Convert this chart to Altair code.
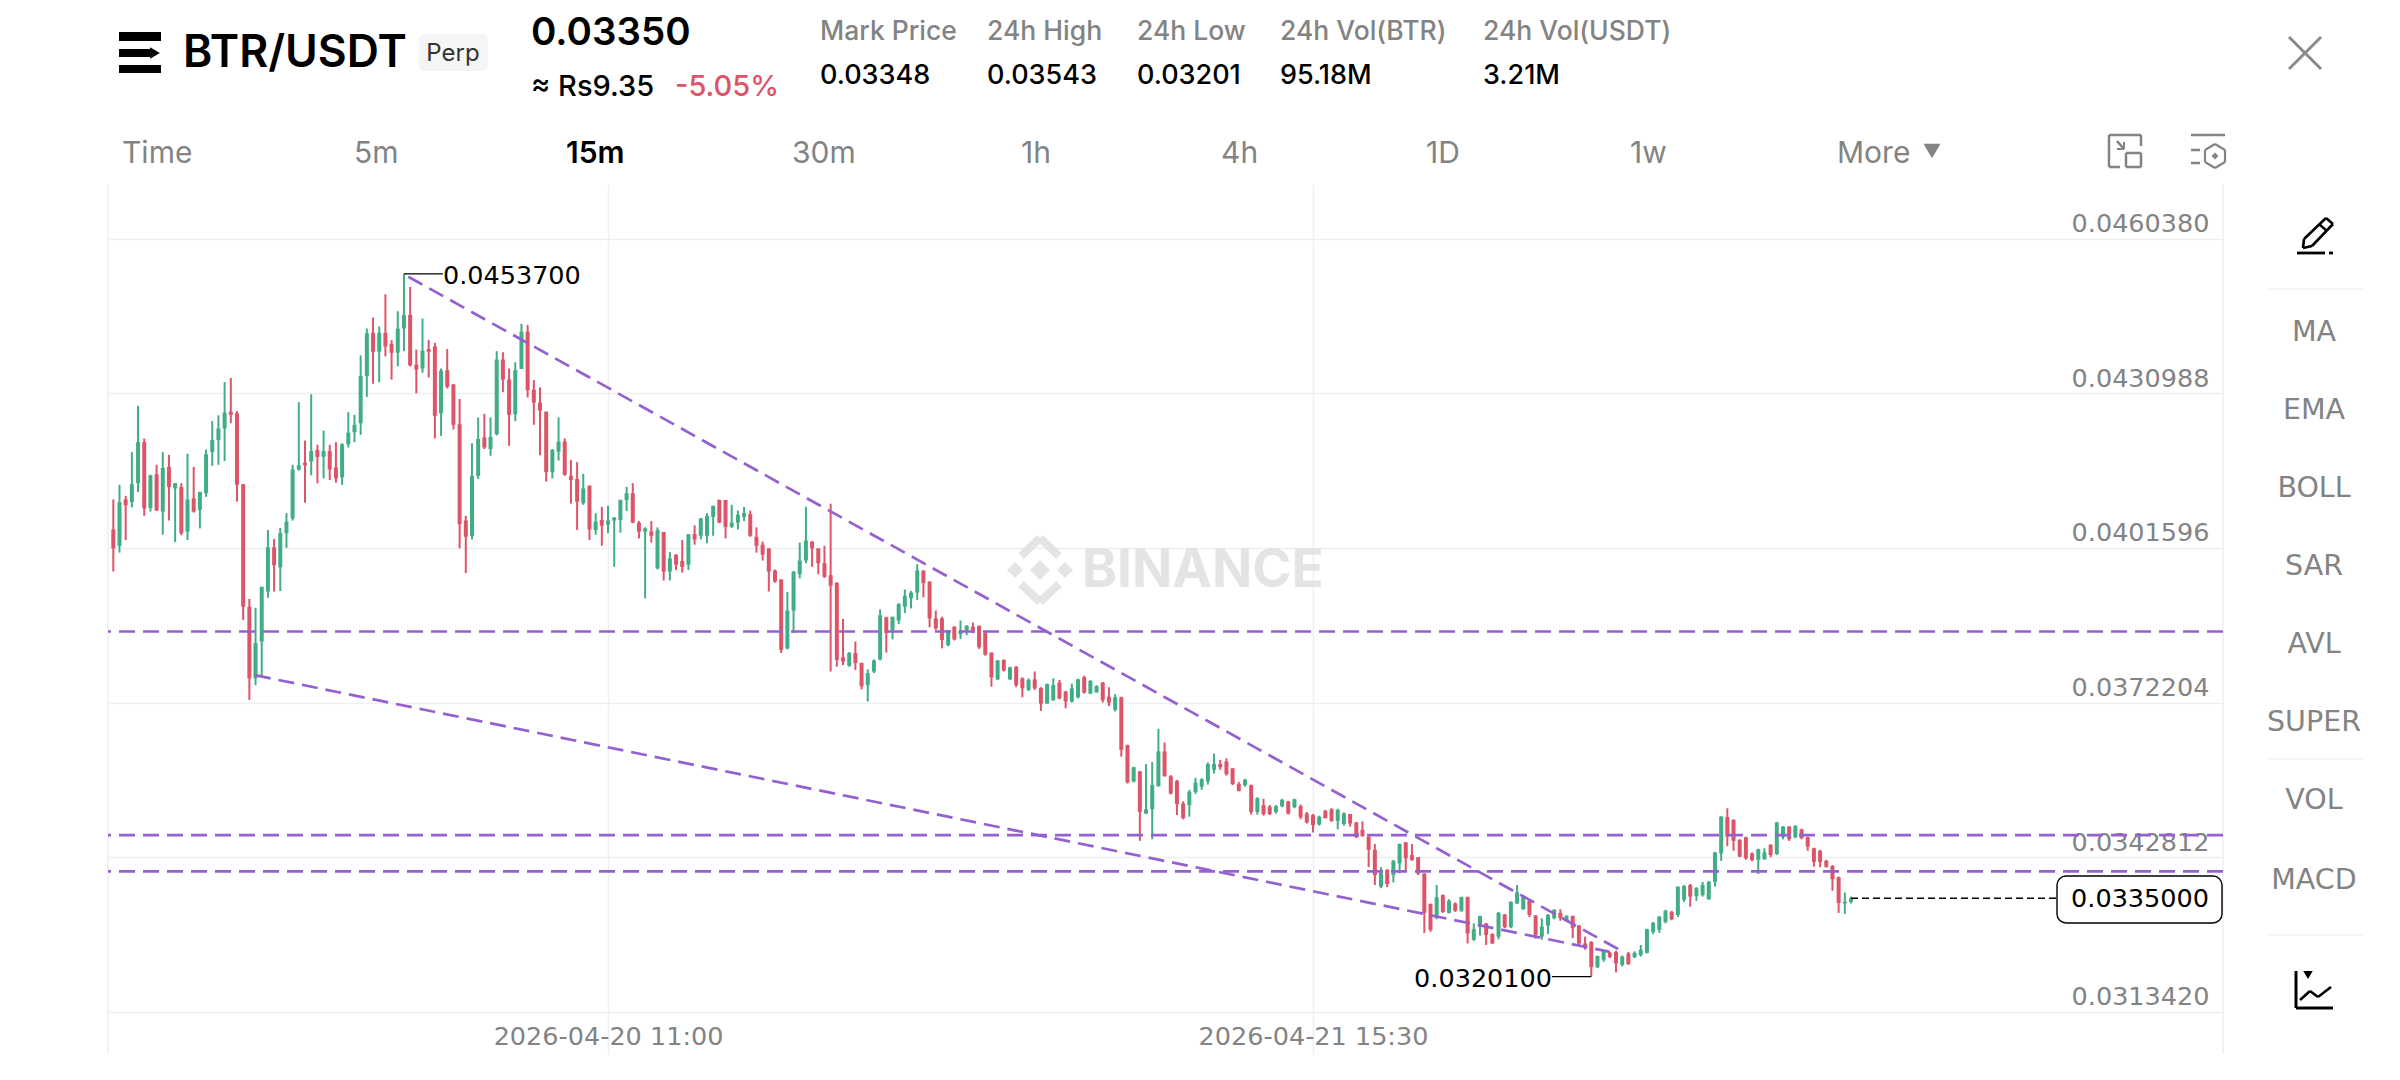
import altair as alt
import pandas as pd

# ---- prices in units of 0.00001 USDT, one per 15-minute candle ----
opens = [
 4051,4020,4108,4103,4139,4217,4092,4156,4085,4170,
 4129,4132,4047,4110,4088,4120,4198,4221,4243,4275,
 4272,4137,3904,3768,3838,3933,4017,3979,4044,4072,
 4165,4178,4180,4202,4189,4200,4169,4150,4213,4236,
 4253,4343,4425,4389,4425,4404,4387,4433,4459,4364,
 4357,4394,4399,4272,4354,4327,4251,4068,4039,4153,
 4226,4204,4232,4374,4336,4270,4356,4427,4317,4292,
 4275,4160,4199,4218,4153,4147,4101,4134,4050,4069,
 4060,4068,4069,4107,4120,4064,4047,4047,3977,4046,
 3971,4003,3991,3984,4042,4039,4039,4075,4107,4107,
 4056,4064,4075,4080,4037,4022,4015,3973,3956,3825,
 3897,3966,3992,4028,4015,3987,3964,3950,3808,3792,
 3816,3797,3755,3781,3804,3884,3860,3878,3904,3920,
 3931,3973,3952,3882,3882,3831,3866,3852,3859,3866,
 3868,3855,3817,3766,3803,3766,3790,3768,3746,3766,
 3750,3720,3727,3760,3743,3724,3732,3770,3739,3741,
 3760,3733,3708,3732,3641,3572,3591,3511,3519,3563,
 3629,3582,3573,3530,3527,3552,3562,3572,3594,3605,
 3610,3597,3567,3565,3565,3514,3527,3524,3514,3525,
 3534,3523,3525,3511,3508,3490,3516,3519,3497,3491,
 3510,3494,3480,3467,3442,3372,3404,3394,3416,3456,
 3432,3428,3397,3339,3312,3356,3322,3340,3326,3352,
 3271,3296,3302,3282,3277,3319,3295,3340,3329,3345,
 3317,3277,3298,3312,3322,3307,3316,3298,3264,3267,
 3219,3233,3246,3248,3223,3245,3238,3242,3246,3286,
 3290,3305,3324,3318,3347,3375,3354,3356,3348,3381,
 3435,3504,3499,3461,3466,3435,3423,3424,3451,3434,
 3466,3486,3466,3481,3466,3445,3440,3421,3411,3390,3340,3343]
highs = [
 4108,4136,4115,4198,4286,4224,4155,4174,4198,4193,
 4139,4139,4195,4170,4123,4203,4257,4268,4331,4339,
 4276,4137,3919,3902,3942,4050,4033,4054,4082,4174,
 4293,4220,4308,4212,4239,4212,4217,4215,4274,4269,
 4382,4433,4454,4437,4498,4411,4466,4537,4512,4393,
 4452,4411,4406,4357,4394,4327,4299,4077,4215,4264,
 4271,4264,4390,4388,4357,4369,4442,4440,4335,4321,
 4275,4204,4264,4224,4183,4179,4157,4135,4082,4094,
 4096,4074,4108,4132,4139,4067,4055,4067,4055,4046,
 4008,4004,4031,4042,4059,4073,4082,4096,4108,4107,
 4098,4087,4094,4087,4055,4028,4015,3975,3956,3932,
 3972,4026,4094,4029,4015,4020,4100,3950,3881,3818,
 3838,3798,3785,3804,3899,3885,3885,3911,3937,3934,
 3985,3973,3952,3897,3885,3860,3867,3878,3869,3874,
 3868,3855,3817,3803,3804,3790,3791,3770,3768,3781,
 3751,3758,3768,3765,3744,3758,3767,3773,3765,3755,
 3761,3751,3738,3733,3642,3600,3592,3605,3609,3672,
 3646,3584,3575,3534,3556,3579,3578,3608,3625,3613,
 3616,3597,3571,3577,3566,3542,3539,3527,3527,3539,
 3535,3539,3528,3514,3510,3507,3518,3521,3520,3513,
 3510,3495,3496,3468,3453,3409,3405,3423,3454,3457,
 3453,3428,3397,3340,3375,3357,3348,3342,3353,3353,
 3302,3317,3303,3283,3324,3320,3344,3375,3356,3347,
 3318,3312,3320,3329,3329,3318,3317,3299,3277,3268,
 3241,3251,3248,3250,3241,3248,3249,3261,3292,3305,
 3316,3328,3326,3372,3375,3377,3371,3381,3383,3438,
 3506,3521,3500,3462,3467,3437,3444,3445,3453,3495,
 3487,3487,3489,3482,3467,3446,3442,3423,3413,3391,3361,3353]
lows = [
 3971,4007,4031,4093,4122,4077,4085,4086,4041,4068,
 4027,4040,4031,4083,4053,4113,4172,4174,4181,4253,
 4104,3879,3727,3755,3771,3921,3933,3934,4016,4068,
 4163,4102,4154,4139,4148,4145,4140,4136,4207,4217,
 4231,4303,4328,4331,4380,4336,4361,4390,4361,4310,
 4349,4340,4224,4229,4319,4241,4015,3968,4032,4147,
 4204,4191,4230,4312,4210,4257,4356,4302,4250,4192,
 4142,4148,4182,4153,4100,4050,4098,4031,4041,4020,
 4044,3980,4045,4086,4063,4034,3920,4026,3975,3954,
 3954,3974,3969,3974,4022,4032,4025,4039,4063,4034,
 4054,4051,4067,4037,4007,3992,3933,3950,3816,3823,
 3854,3958,3987,3980,3966,3959,3781,3790,3793,3790,
 3784,3747,3724,3778,3802,3817,3842,3871,3892,3901,
 3917,3922,3865,3860,3825,3829,3840,3843,3850,3854,
 3824,3811,3752,3765,3781,3765,3751,3732,3744,3746,
 3706,3720,3725,3728,3711,3722,3730,3739,3738,3741,
 3722,3715,3705,3619,3568,3570,3459,3510,3462,3562,
 3581,3547,3508,3500,3505,3548,3556,3566,3587,3594,
 3583,3565,3553,3562,3509,3509,3507,3508,3511,3523,
 3509,3521,3500,3492,3475,3488,3502,3495,3481,3488,
 3486,3464,3467,3409,3375,3369,3371,3380,3397,3402,
 3421,3394,3284,3286,3310,3322,3321,3324,3324,3264,
 3269,3279,3261,3263,3272,3293,3293,3339,3328,3314,
 3273,3271,3282,3310,3307,3305,3274,3261,3252,3201,
 3217,3229,3236,3209,3220,3223,3236,3239,3245,3282,
 3284,3302,3308,3314,3343,3334,3345,3353,3347,3372,
 3421,3449,3440,3428,3423,3420,3396,3423,3428,3432,
 3462,3459,3464,3462,3440,3410,3409,3408,3364,3322,3320,3340]
closes = [
 4015,4103,4097,4137,4217,4091,4154,4087,4168,4132,
 4139,4044,4108,4085,4122,4194,4221,4243,4273,4269,
 4136,3904,3768,3835,3942,4017,3983,4044,4066,4165,
 4173,4173,4200,4189,4200,4165,4148,4213,4235,4250,
 4343,4424,4389,4425,4399,4387,4433,4459,4363,4355,
 4391,4389,4267,4353,4322,4250,4061,4037,4153,4223,
 4207,4227,4374,4336,4269,4354,4427,4316,4292,4277,
 4160,4202,4218,4155,4145,4104,4129,4051,4066,4058,
 4068,4074,4107,4120,4064,4047,4053,4039,4050,3971,
 3996,3984,3980,4042,4032,4072,4077,4096,4064,4056,
 4064,4079,4082,4039,4020,4003,3971,3952,3822,3897,
 3971,3992,4030,4015,3987,3961,3944,3803,3800,3816,
 3797,3753,3778,3802,3888,3854,3885,3909,3925,3931,
 3973,3949,3882,3863,3841,3859,3842,3859,3868,3859,
 3827,3813,3770,3802,3783,3789,3755,3749,3765,3749,
 3720,3757,3755,3730,3724,3749,3766,3741,3763,3753,
 3727,3722,3732,3632,3570,3599,3514,3519,3565,3629,
 3582,3549,3529,3502,3552,3570,3576,3605,3605,3599,
 3586,3567,3554,3575,3514,3540,3510,3510,3525,3537,
 3511,3538,3504,3494,3489,3505,3502,3497,3518,3511,
 3492,3466,3468,3442,3394,3398,3377,3421,3453,3426,
 3423,3397,3322,3290,3352,3324,3345,3326,3352,3283,
 3291,3316,3280,3264,3322,3295,3343,3361,3354,3318,
 3280,3296,3318,3328,3312,3316,3293,3264,3255,3219,
 3240,3249,3238,3226,3239,3225,3246,3252,3291,3303,
 3315,3326,3310,3372,3373,3353,3369,3375,3381,3437,
 3505,3467,3459,3429,3426,3423,3443,3437,3432,3494,
 3486,3462,3487,3464,3448,3419,3419,3410,3386,3341,3343,3350]

first_candle = "2026-04-19T15:00:00"
x_domain = ["2026-04-19T14:47:08", "2026-04-23T04:17:18"]
x_ticks = ["2026-04-20T11:00:00", "2026-04-21T15:30:00"]
y_ticks = [0.0460380, 0.0430988, 0.0401596, 0.0372204, 0.0342812, 0.0313420]
y_domain = [0.030538, 0.047078]

h_levels = [0.03857, 0.03470, 0.03401]
trend_upper_t = ["2026-04-20T02:55:30", "2026-04-22T03:54:00"]
trend_upper_p = [0.045315, 0.032515]
trend_lower_t = ["2026-04-19T20:43:30", "2026-04-22T03:30:00"]
trend_lower_p = [0.03774, 0.03248]

extreme_t = ["2026-04-20T02:45:00", "2026-04-22T02:45:00"]
extreme_t2 = ["2026-04-20T04:19:30", "2026-04-22T01:09:45"]
extreme_p = [0.04537, 0.03201]
extreme_txt = ["0.0453700", "0.0320100"]

last_t = "2026-04-22T13:15:00"
last_t2 = "2026-04-22T21:35:00"
last_p = 0.0335
last_txt = "0.0335000"

GREEN, RED, PURPLE = "#41ad85", "#dd5468", "#9560d0"
GRAY, GRID, MARK = "#838383", "#efefef", "#e4e4e4"
UI = "Inter"
NUM = "DejaVu Sans"
PX, PY = 108, 184  # page position of the plot's corner


def ms(s):
    return int(pd.Timestamp(s, tz="UTC").timestamp() * 1000)


times = [ms(first_candle) + i * 900000 for i in range(len(opens))]
candles = pd.DataFrame({
    "t": times,
    "o": [v / 100000 for v in opens],
    "h": [v / 100000 for v in highs],
    "l": [v / 100000 for v in lows],
    "c": [v / 100000 for v in closes],
})
candles["dir"] = ["up" if c >= o else "down" for o, c in zip(opens, closes)]

x_scale = alt.Scale(type="utc", domain=[ms(d) for d in x_domain])
y_scale = alt.Scale(domain=y_domain, nice=False, zero=False)
x_axis = alt.Axis(
    values=[ms(d) for d in x_ticks],
    labelExpr="utcFormat(datum.value, '%Y-%m-%d %H:%M')",
    grid=True, gridColor=GRID, gridWidth=1.5, domain=False, ticks=False,
    labelFont=NUM, labelFontSize=25.5, labelColor=GRAY, labelBaseline="middle",
    labelPadding=-18, labelFlush=False, labelOverlap=False, labelLimit=500)
y_axis = alt.Axis(
    orient="right", values=y_ticks, format=".7f",
    grid=True, gridColor=GRID, gridWidth=1.5, domain=False, ticks=False,
    labelFont=NUM, labelFontSize=25.5, labelColor=GRAY, labelAlign="right",
    labelBaseline="bottom", labelPadding=-14, labelOffset=-2, labelOverlap=False)
COL = alt.Color("dir:N", legend=None,
                scale=alt.Scale(domain=["up", "down"], range=[GREEN, RED]))


def Xp(field):
    return alt.X(field, scale=x_scale, title=None, axis=x_axis)


def Yp(field):
    return alt.Y(field, scale=y_scale, title=None, axis=y_axis)


dummy = pd.DataFrame({"k": [0]})


def T(px, py, s, size, color="#000000", weight=400, font=UI, align="left"):
    return alt.Chart(dummy).mark_text(
        font=font, fontSize=size, fontWeight=weight, color=color,
        align=align, baseline="middle",
    ).encode(x=alt.value(px - PX), y=alt.value(py - PY), text=alt.value(s))


def seg(x1, y1, x2, y2, color=GRID, w=1.5):
    return alt.Chart(dummy).mark_rule(color=color, strokeWidth=w).encode(
        x=alt.value(x1 - PX), x2=alt.value(x2 - PX),
        y=alt.value(y1 - PY), y2=alt.value(y2 - PY))


def poly(pts, color, w):
    return [seg(a[0], a[1], b[0], b[1], color, w) for a, b in zip(pts, pts[1:])]


def box(x1, y1, x2, y2, fill, stroke=None, r=0, w=0):
    kw = {"stroke": stroke, "strokeWidth": w} if stroke else {}
    return alt.Chart(dummy).mark_rect(color=fill, cornerRadius=r, **kw).encode(
        x=alt.value(x1 - PX), x2=alt.value(x2 - PX),
        y=alt.value(y1 - PY), y2=alt.value(y2 - PY))


def pt(px, py, shape, size, color):
    return alt.Chart(dummy).mark_point(shape=shape, size=size, color=color,
                                       filled=True, opacity=1).encode(
        x=alt.value(px - PX), y=alt.value(py - PY))


layers = []
# watermark
layers += [pt(1015, 570, "diamond", 260, MARK), pt(1065, 570, "diamond", 260, MARK),
           pt(1040, 570, "diamond", 400, MARK)]
layers += poly([(1021, 556), (1040, 538), (1059, 556)], MARK, 8)
layers += poly([(1021, 584), (1040, 602), (1059, 584)], MARK, 8)
layers.append(T(1082, 571, "BINANCE", 53, MARK, 700))

# candles
layers.append(alt.Chart(candles).mark_rule(strokeWidth=2).encode(
    x=Xp("t:T"), y=Yp("l:Q"), y2="h:Q", color=COL))
layers.append(alt.Chart(candles).mark_rule(strokeWidth=4).encode(
    x=Xp("t:T"), y=Yp("o:Q"), y2="c:Q", color=COL))

# plot edges
layers += [seg(PX, 184, PX, 1054), seg(2223, 184, 2223, 1054)]

# horizontal levels and trend lines
layers.append(alt.Chart(pd.DataFrame({"p": h_levels})).mark_rule(
    color=PURPLE, strokeWidth=2.7, strokeDash=[16, 8]).encode(y=Yp("p:Q")))
for tt, pp in ((trend_upper_t, trend_upper_p), (trend_lower_t, trend_lower_p)):
    layers.append(alt.Chart(pd.DataFrame({"t": [ms(v) for v in tt], "p": pp})).mark_line(
        color=PURPLE, strokeWidth=2.7, strokeDash=[16, 8]).encode(x=Xp("t:T"), y=Yp("p:Q")))

# high / low annotations
ext = pd.DataFrame({"t": [ms(v) for v in extreme_t], "t2": [ms(v) for v in extreme_t2],
                    "p": extreme_p, "s": extreme_txt})
layers.append(alt.Chart(ext).mark_rule(color="#000000", strokeWidth=1.3).encode(
    x=Xp("t:T"), x2="t2:T", y=Yp("p:Q")))
for i, al in ((0, "left"), (1, "right")):
    layers.append(alt.Chart(ext.iloc[[i]]).mark_text(
        font=NUM, fontSize=25.5, color="#000000", align=al, baseline="middle", dy=2).encode(
        x=Xp("t2:T"), y=Yp("p:Q"), text="s:N"))

# last price line and tag
lp = pd.DataFrame({"t": [ms(last_t)], "t2": [ms(last_t2)], "p": [last_p], "s": [last_txt]})
layers.append(alt.Chart(lp).mark_rule(color="#000000", strokeWidth=1.5, strokeDash=[7, 4]).encode(
    x=Xp("t:T"), x2="t2:T", y=Yp("p:Q")))
layers.append(box(2057, 876, 2222, 923, "#ffffff", "#000000", 9, 1.4))
layers.append(T(2209, 899, last_txt, 25.5, "#000000", 400, NUM, "right"))

# header
layers += [box(119, 32, 161, 41, "#000000"), box(119, 49, 150, 57, "#000000"),
           box(119, 65, 161, 73, "#000000"), pt(155, 53, "triangle-right", 130, "#000000")]
layers.append(T(183, 54, "BTR/USDT", 44.5, "#000000", 600))
layers.append(box(419, 34, 488, 71, "#f5f5f5", None, 5))
layers.append(T(453, 54, "Perp", 24, "#333333", 400, UI, "center"))
layers.append(T(531, 33, "0.03350", 38.5, "#000000", 600))
layers.append(T(531, 87, "≈ Rs9.35", 29, "#000000", 500))
layers.append(T(675, 87, "-5.05%", 29, "#dd5468", 500))
for x0, lab, val in ((820, "Mark Price", "0.03348"), (987, "24h High", "0.03543"),
                     (1137, "24h Low", "0.03201"), (1280, "24h Vol(BTR)", "95.18M"),
                     (1483, "24h Vol(USDT)", "3.21M")):
    layers.append(T(x0, 32, lab, 26.5, GRAY, 500))
    layers.append(T(x0, 75.5, val, 27, "#000000", 500))
# close button
layers += [seg(2289, 37, 2321, 69, "#8a8a8a", 3), seg(2321, 37, 2289, 69, "#8a8a8a", 3)]

# interval tabs
for x0, lab in ((122, "Time"), (354, "5m"), (792, "30m"), (1021, "1h"), (1221, "4h"),
                (1426, "1D"), (1630, "1w"), (1837, "More")):
    layers.append(T(x0, 154, lab, 30, GRAY))
layers.append(T(566, 154, "15m", 30, "#000000", 600))
layers.append(pt(1932, 151, "triangle-down", 290, GRAY))

# tool icons
layers += poly([(2141, 146), (2141, 135), (2109, 135), (2109, 167), (2120, 167)], GRAY, 2.5)
layers += poly([(2126, 153), (2141, 153), (2141, 167), (2126, 167), (2126, 153)], GRAY, 2.5)
layers += poly([(2117, 141), (2124, 149)], GRAY, 2.5) + poly([(2124, 142), (2124, 149), (2117, 149)], GRAY, 2)
layers += [seg(2191, 135, 2225, 135, GRAY, 2.5), seg(2191, 150, 2200, 150, GRAY, 2.5), seg(2191, 163, 2200, 163, GRAY, 2.5)]
layers += poly([(2215, 144), (2225, 150), (2225, 162), (2215, 168), (2205, 162), (2205, 150), (2215, 144)], GRAY, 2.2)
layers.append(pt(2215, 156, "diamond", 50, GRAY))

# right sidebar
for py, lab in ((332, "MA"), (410, "EMA"), (488, "BOLL"), (566, "SAR"), (644, "AVL"),
                (722, "SUPER"), (800, "VOL"), (880, "MACD")):
    layers.append(T(2314, py, lab, 28.5, GRAY, 400, NUM, "center"))
for py in (289, 759, 935):
    layers.append(seg(2266, py, 2363, py, "#eeeeee", 1.2))
# pencil
layers += poly([(2304, 239), (2326, 218), (2333, 224), (2312, 246), (2303, 248), (2304, 239)], "#000000", 2.6)
layers += poly([(2319, 224), (2327, 231)], "#000000", 2.4)
layers += [seg(2297, 253, 2325, 253, "#000000", 2.8), seg(2329, 253, 2333, 253, "#000000", 2.8)]
# indicator icon
layers += poly([(2296, 971), (2296, 1008), (2333, 1008)], "#000000", 3)
layers += poly([(2300, 1000), (2310, 991), (2318, 997), (2331, 987)], "#000000", 2.6)
layers.append(pt(2308, 975, "triangle-down", 90, "#000000"))

chart = alt.layer(*layers).properties(
    width=2115, height=870,
    autosize=alt.AutoSizeParams(type="none"),
    padding={"left": 100, "top": 176, "right": 169, "bottom": 18},
    background="#ffffff",
).configure_view(stroke=None)

chart.save("out.html", embed_options={"renderer": "svg", "actions": False})
